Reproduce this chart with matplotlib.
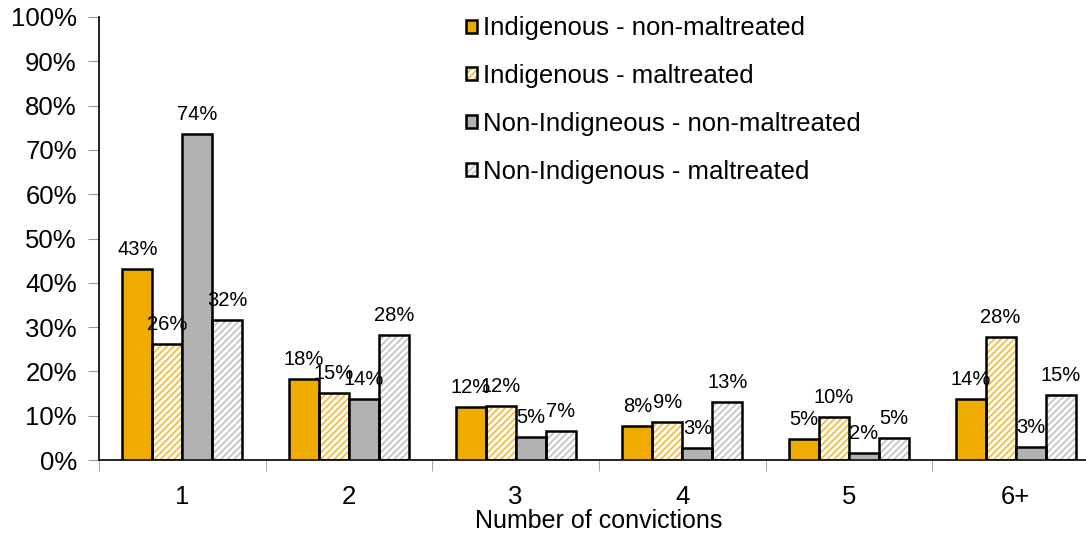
import matplotlib
matplotlib.use("Agg")
import matplotlib.pyplot as plt
import numpy as np
from matplotlib.legend_handler import HandlerTuple

plt.rcParams['font.family'] = ['Liberation Sans', 'DejaVu Sans']
plt.rcParams['hatch.linewidth'] = 1.3

categories = ["1", "2", "3", "4", "5", "6+"]
series_names = ["Indigenous - non-maltreated", "Indigenous - maltreated",
                "Non-Indigneous - non-maltreated", "Non-Indigenous - maltreated"]
indig_nonmal = [43.1, 18.3, 12.0, 7.7, 4.7, 13.8]
indig_mal = [26.2, 15.1, 12.2, 8.6, 9.7, 27.8]
nonindig_nonmal = [73.6, 13.8, 5.2, 2.7, 1.6, 3.0]
nonindig_mal = [31.6, 28.2, 6.6, 13.1, 5.0, 14.7]
yticks = list(range(0, 101, 10))

series = [indig_nonmal, indig_mal, nonindig_nonmal, nonindig_mal]
styles = [
    dict(face="#F0AB00", hatch=None, hcolor=None),
    dict(face="white", hatch="/////", hcolor="#F4BE3C"),
    dict(face="#B2B2B2", hatch=None, hcolor=None),
    dict(face="white", hatch="/////", hcolor="#C4C4C4"),
]

fig = plt.figure(figsize=(10.86, 5.33), dpi=100)
ax = fig.add_axes([99/1086, 73/533, 1000/1086, 443/533])

x = np.arange(len(categories))
w = 0.18
handles = []
for i, (vals, st) in enumerate(zip(series, styles)):
    pos = x + (i - 1.5) * w
    if st["hatch"]:
        b1 = ax.bar(pos, vals, w, color="white", edgecolor=st["hcolor"],
                    hatch=st["hatch"], linewidth=0, zorder=2)
        b2 = ax.bar(pos, vals, w, fill=False, edgecolor="black",
                    linewidth=1.8, zorder=3)
        handles.append((b1, b2))
    else:
        b2 = ax.bar(pos, vals, w, color=st["face"], edgecolor="black",
                    linewidth=1.8, zorder=3)
        handles.append(b2)
    for p, v in zip(pos, vals):
        ax.annotate(f"{v:.0f}%", (p, v), xytext=(0, 7), textcoords="offset points",
                    ha="center", va="bottom", fontsize=14.5, zorder=5)

ax.set_xlim(-0.5, len(categories) - 0.5)
ax.set_ylim(0, 100)
ax.set_yticks(yticks)
ax.set_yticklabels([f"{t}%" for t in yticks], fontsize=18.5)
ax.set_xticks(x)
ax.set_xticklabels(categories, fontsize=18.5)
ax.set_xticks(np.arange(len(categories) + 1) - 0.5, minor=True)
ax.tick_params(axis="x", which="major", length=0, pad=18)
ax.tick_params(axis="x", which="minor", length=8, color="#999999", direction="out")
ax.tick_params(axis="y", length=8, color="#999999", direction="out", pad=8)
for s in ["top", "right"]:
    ax.spines[s].set_visible(False)
ax.spines["left"].set_linewidth(1.2)
ax.spines["bottom"].set_linewidth(1.2)
ax.set_xlabel("Number of convictions", fontsize=18, labelpad=0)

leg = ax.legend(handles, series_names, handler_map={tuple: HandlerTuple(ndivide=1, pad=0)},
                loc="upper left", bbox_to_anchor=(357/1000, 1.025), frameon=False,
                fontsize=18.5, handlelength=0.4, handleheight=0.4, handletextpad=0.27,
                labelspacing=0.93, borderaxespad=0)

fig.savefig("out.png", dpi=100)
